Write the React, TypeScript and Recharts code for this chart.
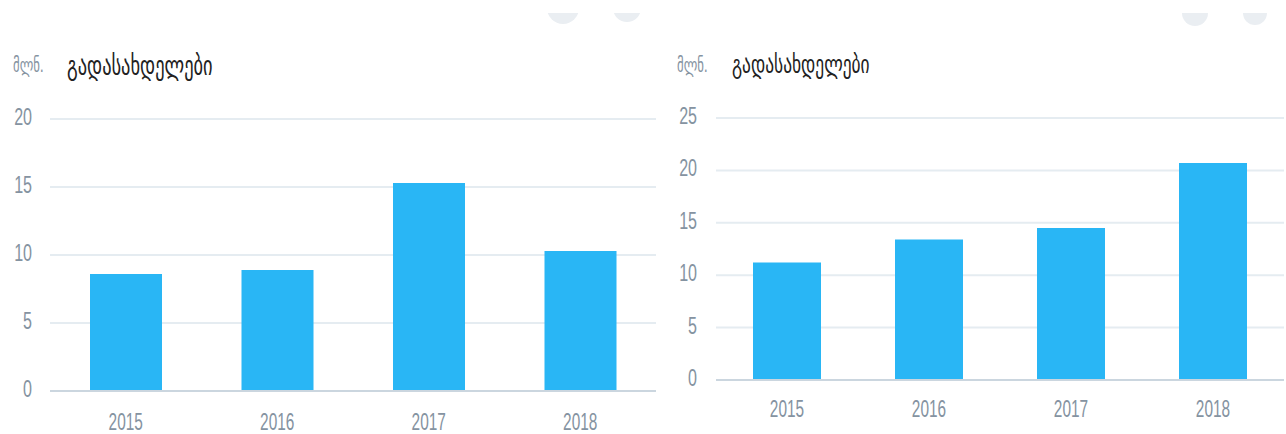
import React from 'react';
import { BarChart, Bar, XAxis, YAxis, CartesianGrid } from 'recharts';

const years = ['2015', '2016', '2017', '2018'];
const paymentsLeft = [8.6, 8.9, 15.3, 10.3];
const paymentsRight = [11.2, 13.4, 14.5, 20.7];
const ticksLeft = [0, 5, 10, 15, 20];
const ticksRight = [0, 5, 10, 15, 20, 25];
const unitLabel = 'მლნ.';
const chartTitle = 'გადასახდელები';

const BAR_COLOR = '#29b6f5';
const GRID_COLOR = '#e5ecf1';
const AXIS_COLOR = '#cbd6df';
const TICK_COLOR = '#8593a1';
const SQUEEZE = 0.67;

const XTick = (props: any) => {
  const { x, y, payload, offset } = props;
  return (
    <text
      transform={`translate(${x},${y + offset}) scale(${SQUEEZE},1)`}
      textAnchor="middle"
      fill={TICK_COLOR}
      fontFamily="'Liberation Sans', Arial, sans-serif"
      fontSize={23}
    >
      {payload.value}
    </text>
  );
};

const YTick = (props: any) => {
  const { x, y, payload, gap } = props;
  return (
    <text
      transform={`translate(${x - gap},${y + 6}) scale(${SQUEEZE},1)`}
      textAnchor="end"
      fill={TICK_COLOR}
      fontFamily="'Liberation Sans', Arial, sans-serif"
      fontSize={24}
    >
      {payload.value}
    </text>
  );
};

interface PanelProps {
  values: number[];
  ticks: number[];
  left: number;
  width: number;
  axisWidth: number;
  top: number;
  bottom: number;
  right: number;
  barSize: number;
  tickGap: number;
  xOffset: number;
  unitX: number;
  titleX: number;
  titleSize: number;
}

const Panel: React.FC<PanelProps> = (p) => {
  const data = years.map((year, i) => ({ year, value: p.values[i] }));
  return (
    <div style={{ position: 'absolute', left: p.left, top: 0, width: p.width, height: 434 }}>
      <div
        style={{
          position: 'absolute',
          left: p.unitX,
          top: 54,
          fontFamily: "'DejaVu Sans', sans-serif",
          fontSize: 19,
          color: TICK_COLOR,
          transform: `scale(${SQUEEZE},1)`,
          transformOrigin: 'left top',
          whiteSpace: 'nowrap',
        }}
      >
        {unitLabel}
      </div>
      <div
        style={{
          position: 'absolute',
          left: p.titleX,
          top: 49,
          fontFamily: "'DejaVu Sans', sans-serif",
          fontSize: p.titleSize,
          color: '#222',
          transform: `scale(${SQUEEZE},1)`,
          transformOrigin: 'left top',
          whiteSpace: 'nowrap',
        }}
      >
        {chartTitle}
      </div>
      <BarChart
        width={p.width}
        height={434}
        data={data}
        margin={{ top: p.top, right: p.right, bottom: 0, left: 0 }}
        style={{ position: 'absolute', left: 0, top: 0 }}
      >
        <CartesianGrid vertical={false} stroke={GRID_COLOR} strokeWidth={2} />
        <XAxis
          dataKey="year"
          tickLine={false}
          tickSize={0}
          tickMargin={0}
          axisLine={{ stroke: AXIS_COLOR, strokeWidth: 2 }}
          tick={<XTick offset={p.xOffset} />}
          height={p.bottom}
        />
        <YAxis
          width={p.axisWidth}
          domain={[0, p.ticks[p.ticks.length - 1]]}
          ticks={p.ticks}
          axisLine={false}
          tickLine={false}
          tickSize={0}
          tickMargin={0}
          tick={<YTick gap={p.tickGap} />}
        />
        <Bar dataKey="value" fill={BAR_COLOR} barSize={p.barSize} isAnimationActive={false} />
      </BarChart>
    </div>
  );
};

const Bubble = ({ x, y, r }: { x: number; y: number; r: number }) => (
  <div
    style={{
      position: 'absolute',
      left: x - r,
      top: y - r,
      width: r * 2,
      height: r * 2,
      borderRadius: '50%',
      background: '#eaeef2',
    }}
  />
);

export default function App() {
  return (
    <div style={{ position: 'absolute', left: 0, top: 0, width: 1286, height: 434, background: '#fff', overflow: 'hidden' }}>
      <div style={{ position: 'absolute', left: 0, top: 13, width: 1286, height: 30, overflow: 'hidden' }}>
        <Bubble x={563} y={-5} r={16} />
        <Bubble x={627} y={-5} r={14} />
        <Bubble x={1195} y={0} r={13} />
        <Bubble x={1255} y={0} r={12} />
      </div>
      <Panel
        values={paymentsLeft}
        ticks={ticksLeft}
        left={0}
        width={660}
        axisWidth={50}
        top={119}
        bottom={43}
        right={4}
        barSize={72}
        tickGap={18}
        xOffset={39}
        unitX={13}
        titleX={67}
        titleSize={27.5}
      />
      <Panel
        values={paymentsRight}
        ticks={ticksRight}
        left={660}
        width={626}
        axisWidth={56}
        top={118}
        bottom={54}
        right={2}
        barSize={68}
        tickGap={19}
        xOffset={37}
        unitX={17}
        titleX={72}
        titleSize={26}
      />
    </div>
  );
}
